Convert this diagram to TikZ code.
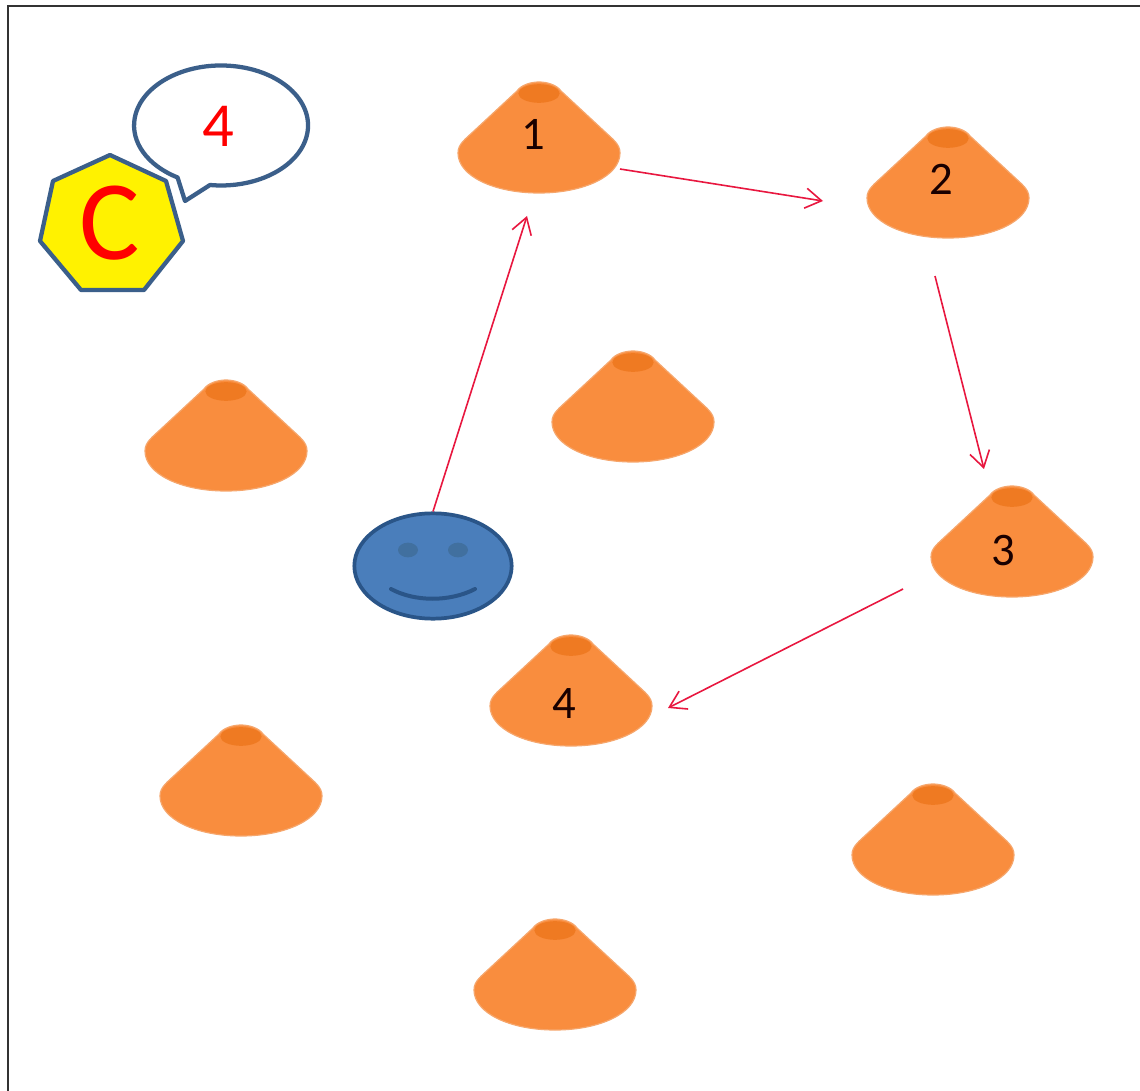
\documentclass[tikz,border=0pt]{standalone}
\usepackage{fontspec}
\setmainfont{Carlito}
\usetikzlibrary{arrows.meta,shapes.geometric}
\definecolor{coneBody}{HTML}{F98D3E}
\definecolor{coneEdge}{HTML}{F6A66C}
\definecolor{coneHole}{HTML}{EF7A22}
\definecolor{faceFill}{HTML}{4A7EBB}
\definecolor{faceLine}{HTML}{2A5588}
\definecolor{eyeFill}{HTML}{41709F}
\definecolor{bubbleLine}{HTML}{3B5F8A}
\definecolor{routeRed}{HTML}{E8173F}
\tikzset{
  conepic/.pic={
    \fill[coneBody,draw=coneEdge,line width=0.9pt]
      (-22,-1) .. controls (-18,-7) and (-8,-10) .. (0,-10)
      .. controls (8,-10) and (18,-7) .. (22,-1)
      -- (64,38) .. controls (74,47.5) and (81,52) .. (81,61)
      .. controls (81,84) and (45,101) .. (0,101)
      .. controls (-45,101) and (-81,84) .. (-81,61)
      .. controls (-81,52) and (-74,47.5) .. (-64,38) -- cycle;
    \fill[coneHole] (0,1.5) ellipse [x radius=15.5pt,y radius=7pt];
  },
  conelabel/.style={text=black!90!red,font=\fontsize{35}{35}\selectfont,inner sep=0pt},
  route/.style={draw=routeRed,line width=1.2pt,-{Straight Barb[length=12pt,width=15pt,line width=1.2pt]}},
  outline/.style={draw=bubbleLine,line width=3.2pt,line join=round},
  facenode/.style={ellipse,draw=faceLine,fill=faceFill,line width=2.8pt,minimum width=118pt,minimum height=79pt,inner sep=0pt},
  redtext/.style={text=red,inner sep=0pt},
  frameline/.style={draw=black!80,line width=1.4pt},
}
\begin{document}
\begin{tikzpicture}[x=0.75pt,y=-0.75pt]
\useasboundingbox (0,0) rectangle (1140,1091);
\fill[white] (0,0) rectangle (1140,1091);
\draw[frameline] (8,1091) -- (8,6) -- (1140,6);

% cones
\foreach \cx/\cy in {539/92,948/137,1012/496,571/645,633/361,226/390,241/735,933/794,555/929}
  \pic at (\cx,\cy) {conepic};

\node[conelabel] (n1) at (533,134) {1};
\node[conelabel] (n2) at (941,179) {2};
\node[conelabel] (n3) at (1003,551) {3};
\node[conelabel] (n4) at (564,704) {4};

% player face
\node[facenode] (face) at (433,566) {};
\fill[eyeFill] (408,550) ellipse [x radius=7.5pt,y radius=5.5pt];
\fill[eyeFill] (458,550) ellipse [x radius=7.5pt,y radius=5.5pt];
\draw[faceLine,line width=3pt,line cap=round] (391,589) .. controls (415,602) and (450,602) .. (475,589);

% heptagon with C
\draw[outline,fill=yellow] (110,155) -- (166,181) -- (183,241) -- (144,290) -- (81,290) -- (40,241) -- (53,181) -- cycle;
\node[redtext,font=\fontsize{85}{85}\selectfont] (coach) at (110,223) {C};

% speech bubble
\coordinate (tailEnd) at (210,185);
\coordinate (tailTip) at (185,201);
\draw[outline,fill=white] (tailEnd) arc[start angle=262.7,delta angle=337.3,x radius=65.25pt,y radius=45pt] -- (tailTip) -- cycle;
\node[redtext,font=\fontsize{47}{47}\selectfont] (said) at (218,126) {4};

% route
\coordinate (a1) at (527,216);
\coordinate (b1) at (620,169);
\coordinate (a2) at (823,201);
\coordinate (b2) at (935,276);
\coordinate (a3) at (984,469);
\coordinate (b3) at (903,589);
\coordinate (a4) at (668,708);
\draw[route] (face.north) -- (a1);
\draw[route] (b1) -- (a2);
\draw[route] (b2) -- (a3);
\draw[route] (b3) -- (a4);
\end{tikzpicture}
\end{document}
